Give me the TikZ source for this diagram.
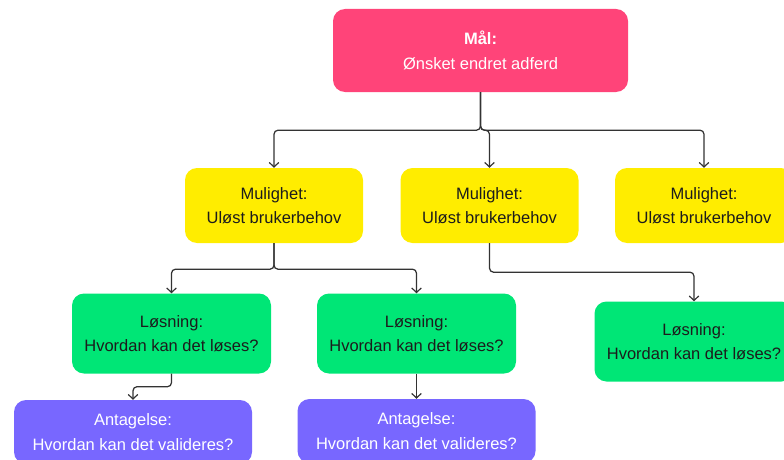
\documentclass[tikz,border=0pt]{standalone}
\usepackage{fontspec}
\setmainfont{Liberation Sans}
\usetikzlibrary{arrows.meta}
\definecolor{goalpink}{HTML}{FF4479}
\definecolor{oppyellow}{HTML}{FFED00}
\definecolor{solgreen}{HTML}{00E676}
\definecolor{asspurple}{HTML}{7867FF}
\definecolor{inkdark}{HTML}{1C1C1C}
\definecolor{wire}{HTML}{333333}
\begin{document}
\begin{tikzpicture}[x=1pt,y=-1pt,
  card/.style={rounded corners=12pt, inner sep=0pt, align=center,
    font=\fontsize{16.5}{24.5}\selectfont},
  goalbox/.style={card, fill=goalpink, text=white, minimum width=295pt, minimum height=83pt},
  oppbox/.style={card, fill=oppyellow, text=inkdark, minimum width=178pt, minimum height=75pt},
  solbox/.style={card, fill=solgreen, text=inkdark, minimum width=199pt, minimum height=80pt},
  assbox/.style={card, fill=asspurple, text=white, minimum width=238pt, minimum height=64pt},
  link/.style={draw=wire, line width=1.25pt, rounded corners=4pt,
    -{Straight Barb[length=4.5pt,width=9.5pt,line width=1.2pt]}}
]
\useasboundingbox (0,0) rectangle (784,460);
\clip (0,0) rectangle (784,460);

% goal
\node[goalbox] (goal) at (480.5,50.5) {\textbf{Mål:}\\Ønsket endret adferd};

% opportunities
\node[oppbox] (opp1) at (274,205.5) {Mulighet:\\Uløst brukerbehov};
\node[oppbox] (opp2) at (489.5,205.5) {Mulighet:\\Uløst brukerbehov};
\node[oppbox] (opp3) at (704,205.5) {Mulighet:\\Uløst brukerbehov};

% solutions
\node[solbox] (sol1) at (171.5,333.5) {Løsning:\\Hvordan kan det løses?};
\node[solbox] (sol2) at (416.5,333.5) {Løsning:\\Hvordan kan det løses?};
\node[solbox] (sol3) at (694,341.5) {Løsning:\\Hvordan kan det løses?};

% assumptions
\node[assbox] (ass1) at (133,432) {Antagelse:\\Hvordan kan det valideres?};
\node[assbox] (ass2) at (416.5,431) {Antagelse:\\Hvordan kan det valideres?};

% connectors
\draw[link] (goal.south) -- ++(0,38) -| (opp1.north);
\draw[link] (goal.south) -- ++(0,38) -| (opp2.north);
\draw[link] (goal.south) -- ++(0,38) -| (opp3.north);

\draw[link] (opp1.south) -- ++(0,26) -| (sol1.north);
\draw[link] (opp1.south) -- ++(0,26) -| (sol2.north);
\draw[link] (opp2.south) -- ++(0,29) -| (sol3.north);

\draw[link] (sol1.south) -- ++(0,13) -| (ass1.north);
\draw[link] (sol2.south) -- (ass2.north);
\end{tikzpicture}
\end{document}
